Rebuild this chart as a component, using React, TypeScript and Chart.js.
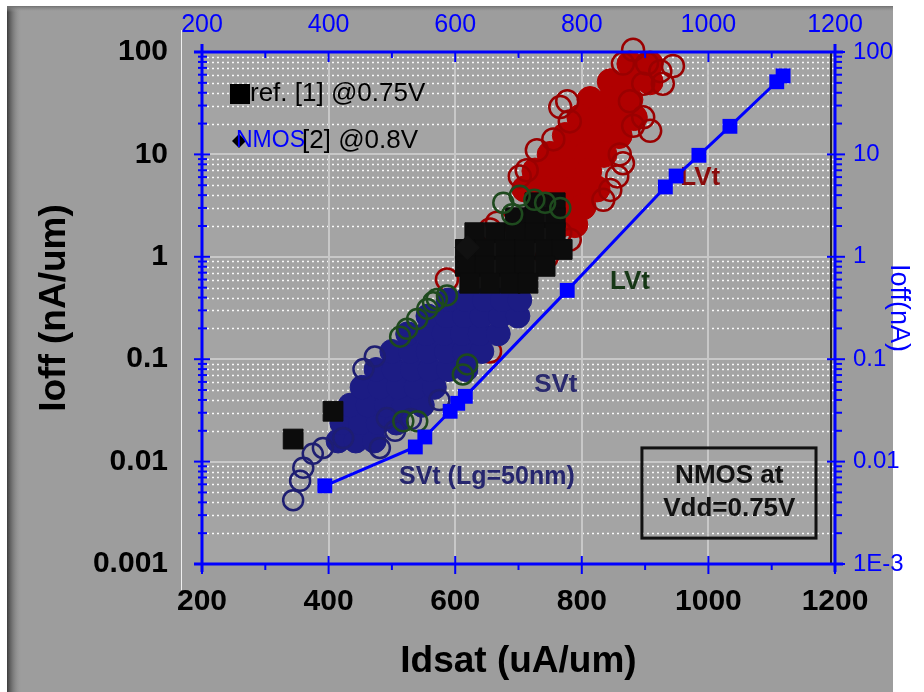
import React, { useEffect, useRef } from 'react';
import { Chart, registerables } from 'chart.js';
Chart.register(...registerables);

const FONT = '"Liberation Sans", Arial, Helvetica, sans-serif';

// ---- axes ----
const xTicks = [200, 400, 600, 800, 1000, 1200];
const xTickLabels = ['200', '400', '600', '800', '1000', '1200'];
const yTicks = [0.001, 0.01, 0.1, 1, 10, 100];
const yLeftLabels = ['0.001', '0.01', '0.1', '1', '10', '100'];
const yRightLabels = ['1E-3', '0.01', '0.1', '1', '10', '100'];

// ---- SVt (Lg=50nm) line, Ioff in nA (right axis) ----
const lineIdsat = [394, 537, 552, 592, 604, 616, 777, 932, 949, 985, 1034, 1108, 1118];
const lineIoff = [0.0058, 0.0139, 0.0174, 0.031, 0.0371, 0.0434, 0.47, 4.81, 6.15, 9.8, 18.8, 51.2, 58.5];

// ---- LVt cloud (red circles) ----
const lvtOpenIdsat = [881, 924, 944, 865, 903, 928, 897, 876, 897, 908, 881, 777, 766, 781, 755, 729, 860, 865, 856, 845, 834, 702, 713, 666, 655, 781, 766, 587, 655, 745];
const lvtOpenIoff = [105, 65, 73, 77, 77, 49, 49, 33, 23, 17, 19, 33, 29, 21, 14, 11, 10, 8.2, 6.1, 4.5, 3.6, 6.1, 7.0, 2.15, 1.85, 1.47, 1.72, 0.6, 0.119, 1.0];
const lvtCoreIdsat = [876, 908, 845, 876, 908, 813, 845, 876, 797, 826, 854, 883, 774, 802, 830, 859, 750, 778, 807, 835, 726, 755, 783, 811, 710, 739, 767, 796, 824, 774, 802, 789, 766];
const lvtCoreIoff = [76.5, 76.5, 51.2, 51.2, 51.2, 34.3, 34.3, 34.3, 22.9, 22.9, 22.9, 22.9, 15.3, 15.3, 15.3, 15.3, 10, 10, 10, 10, 6.87, 6.87, 6.87, 6.87, 4.6, 4.6, 4.6, 4.6, 4.6, 3.08, 3.08, 2.06, 2.06];

// ---- green circles ----
const greenIdsat = [513, 540, 556, 571, 587, 612, 619, 540, 518, 524, 565, 676, 702, 742, 766, 690, 725];
const greenIoff = [0.166, 0.247, 0.31, 0.387, 0.42, 0.071, 0.089, 0.0248, 0.0248, 0.198, 0.36, 3.37, 3.94, 3.37, 3.0, 2.6, 3.6];

// ---- SVt cloud (navy) ----
const svtCoreIdsat = [
  415, 443, 472,
  421, 450, 478, 507,
  434, 462, 491, 519, 548,
  453, 481, 510, 538, 567,
  475, 503, 532, 560, 589, 617,
  500, 529, 557, 586, 614, 642,
  525, 554, 582, 611, 639, 668,
  557, 586, 614, 642, 671, 699,
  589, 617, 646, 674, 702,
];
const svtCoreIoff = [
  0.0159, 0.0159, 0.0159,
  0.0238, 0.0238, 0.0238, 0.0238,
  0.0355, 0.0355, 0.0355, 0.0355, 0.0355,
  0.0531, 0.0531, 0.0531, 0.0531, 0.0531,
  0.0793, 0.0793, 0.0793, 0.0793, 0.0793, 0.0793,
  0.119, 0.119, 0.119, 0.119, 0.119, 0.119,
  0.177, 0.177, 0.177, 0.177, 0.177, 0.177,
  0.264, 0.264, 0.264, 0.264, 0.264, 0.264,
  0.378, 0.378, 0.378, 0.378, 0.378,
];
const svtOpenIdsat = [355, 344, 360, 375, 391, 423, 481, 473, 492, 455, 505, 530, 575];
const svtOpenIoff = [0.0065, 0.0042, 0.0087, 0.0119, 0.0136, 0.017, 0.0136, 0.106, 0.0266, 0.08, 0.02, 0.026, 0.04];

// ---- ref. [1] @0.75V (black squares) ----
const refIdsat = [344, 407, 726, 758, 695, 726, 758, 631, 663, 695, 726, 758, 616, 647, 679, 710, 742, 769, 616, 647, 679, 710, 742, 623, 655, 687, 715];
const refIoff = [0.0166, 0.031, 3.37, 3.37, 2.41, 2.41, 2.41, 1.72, 1.72, 1.72, 1.72, 1.72, 1.18, 1.18, 1.18, 1.18, 1.18, 1.18, 0.807, 0.807, 0.807, 0.807, 0.807, 0.552, 0.552, 0.552, 0.552];

// ---- NMOS [2] @0.8V (diamond) ----
const nmosIdsat = [619];
const nmosIoff = [1.23];

// ---- annotations (data coordinates) ----
const labelTexts = ['SVt (Lg=50nm)', 'SVt', 'LVt', 'LVt'];
const labelIdsat = [650, 759, 876, 987];
const labelIoff = [0.007, 0.0567, 0.565, 5.9];
const labelColors = ['#26266e', '#2a2a6e', '#163816', '#8a0c0c'];
const boxCorners = [[895, 0.0136], [1170, 0.00179]];
const boxLines = ['NMOS at', 'Vdd=0.75V'];
const boxLineIoff = [0.00728, 0.00349];
const boxCenterIdsat = 1033;

const pts = (xs: number[], ys: number[]) => xs.map((x, i) => ({ x, y: ys[i] }));

export default function App() {
  const ref = useRef<HTMLCanvasElement>(null);

  useEffect(() => {
    const canvas = ref.current!;

    const line = (ctx: CanvasRenderingContext2D, x1: number, y1: number, x2: number, y2: number) => {
      ctx.beginPath();
      ctx.moveTo(x1, y1);
      ctx.lineTo(x2, y2);
      ctx.stroke();
    };

    const bgPlugin = {
      id: 'bgPlugin',
      beforeDraw(chart: any) {
        const { ctx, chartArea: a } = chart;
        ctx.save();
        ctx.fillStyle = '#ffffff';
        ctx.fillRect(0, 0, 924, 692);
        ctx.fillStyle = '#9d9d9d';
        ctx.fillRect(7, 6, 886, 686);
        const g = ctx.createLinearGradient(7, 0, 22, 0);
        g.addColorStop(0, '#3c3c3c');
        g.addColorStop(1, 'rgba(157,157,157,0)');
        ctx.fillStyle = g;
        ctx.fillRect(7, 6, 15, 686);
        const gt = ctx.createLinearGradient(0, 6, 0, 12);
        gt.addColorStop(0, '#707070');
        gt.addColorStop(1, 'rgba(157,157,157,0)');
        ctx.fillStyle = gt;
        ctx.fillRect(7, 6, 886, 6);
        ctx.fillStyle = '#a4a4a4';
        ctx.fillRect(a.left, a.top, a.right - a.left, a.bottom - a.top);
        ctx.strokeStyle = '#f0f0f0';
        ctx.lineWidth = 1;
        line(ctx, 181.5, 30, 181.5, 590);
        ctx.restore();
      },
      beforeDatasetsDraw(chart: any) {
        const { ctx, chartArea: a, scales } = chart;
        const xs = scales.x, ys = scales.y;
        ctx.save();
        ctx.strokeStyle = 'rgba(255,255,255,0.95)';
        ctx.lineWidth = 1.5;
        ctx.setLineDash([2, 3]);
        for (let i = 0; i < yTicks.length - 1; i++) {
          for (let k = 2; k <= 9; k++) {
            const py = Math.round(ys.getPixelForValue(yTicks[i] * k)) + 0.5;
            line(ctx, a.left, py, a.right, py);
          }
        }
        ctx.setLineDash([]);
        ctx.strokeStyle = '#c8c8c8';
        ctx.lineWidth = 2;
        for (let i = 1; i < yTicks.length - 1; i++) {
          const py = Math.round(ys.getPixelForValue(yTicks[i]));
          line(ctx, a.left, py, a.right, py);
        }
        for (let i = 1; i < xTicks.length - 1; i++) {
          const px = Math.round(xs.getPixelForValue(xTicks[i]));
          line(ctx, px, a.top, px, a.bottom);
        }
        // legend
        ctx.fillStyle = '#000';
        ctx.fillRect(a.left + 28, a.top + 32, 20, 20);
        ctx.font = `26px ${FONT}`;
        ctx.textBaseline = 'middle';
        ctx.textAlign = 'left';
        ctx.fillText('ref. [1] @0.75V', a.left + 48, a.top + 42);
        ctx.beginPath();
        ctx.moveTo(a.left + 30, a.top + 89);
        ctx.lineTo(a.left + 37, a.top + 82);
        ctx.lineTo(a.left + 44, a.top + 89);
        ctx.lineTo(a.left + 37, a.top + 96);
        ctx.closePath();
        ctx.fill();
        ctx.fillText('[2] @0.8V', a.left + 100, a.top + 89);
        ctx.fillStyle = '#0000ff';
        ctx.font = `23px ${FONT}`;
        ctx.fillText('NMOS', a.left + 34, a.top + 89);
        // labels
        ctx.textAlign = 'center';
        for (let i = 0; i < labelTexts.length; i++) {
          ctx.fillStyle = labelColors[i];
          ctx.font = `bold ${i === 0 ? 25 : 26}px ${FONT}`;
          ctx.fillText(labelTexts[i], xs.getPixelForValue(labelIdsat[i]), ys.getPixelForValue(labelIoff[i]));
        }
        // box
        const bx1 = xs.getPixelForValue(boxCorners[0][0]);
        const by1 = ys.getPixelForValue(boxCorners[0][1]);
        const bx2 = xs.getPixelForValue(boxCorners[1][0]);
        const by2 = ys.getPixelForValue(boxCorners[1][1]);
        ctx.strokeStyle = '#111';
        ctx.lineWidth = 3;
        ctx.strokeRect(bx1, by1, bx2 - bx1, by2 - by1);
        ctx.fillStyle = '#111';
        ctx.font = `bold 26px ${FONT}`;
        for (let i = 0; i < boxLines.length; i++) {
          ctx.fillText(boxLines[i], xs.getPixelForValue(boxCenterIdsat), ys.getPixelForValue(boxLineIoff[i]));
        }
        ctx.restore();
      },
      afterDatasetsDraw(chart: any) {
        const { ctx, chartArea: a, scales } = chart;
        const xs = scales.x, ys = scales.y;
        ctx.save();
        ctx.strokeStyle = '#202020';
        ctx.lineWidth = 2;
        line(ctx, a.right - 4, a.top, a.right - 4, a.bottom);
        ctx.strokeStyle = '#0000ff';
        ctx.lineWidth = 3;
        line(ctx, a.left - 8, a.top, a.right + 8, a.top);
        line(ctx, a.left - 8, a.bottom, a.right + 8, a.bottom);
        line(ctx, a.left, a.top - 8, a.left, a.bottom + 8);
        line(ctx, a.right, a.top - 8, a.right, a.bottom + 8);
        ctx.lineWidth = 2;
        for (let i = 0; i < xTicks.length; i++) {
          const px = xs.getPixelForValue(xTicks[i]);
          line(ctx, px, a.bottom - 8, px, a.bottom + 10);
          line(ctx, px, a.top, px, a.top + 10);
          if (i < xTicks.length - 1) {
            const pm = xs.getPixelForValue((xTicks[i] + xTicks[i + 1]) / 2);
            line(ctx, pm, a.bottom, pm, a.bottom + 6);
            line(ctx, pm, a.top, pm, a.top + 6);
          }
        }
        for (let i = 0; i < yTicks.length; i++) {
          const py = ys.getPixelForValue(yTicks[i]);
          line(ctx, a.left - 8, py, a.left + 8, py);
          line(ctx, a.right - 8, py, a.right + 10, py);
          if (i < yTicks.length - 1) {
            for (let k = 2; k <= 9; k++) {
              const pm = ys.getPixelForValue(yTicks[i] * k);
              line(ctx, a.left - 4, pm, a.left + 5, pm);
              line(ctx, a.right, pm, a.right + 7, pm);
            }
          }
        }
        ctx.restore();
      },
    };

    const openCircle = (label: string, data: any[], color: string, order: number, r = 10) => ({
      label,
      data,
      xAxisID: 'x',
      yAxisID: 'y',
      pointStyle: 'circle',
      pointRadius: r,
      pointBorderWidth: 2.5,
      pointBorderColor: color,
      pointBackgroundColor: 'rgba(0,0,0,0)',
      showLine: false,
      clip: false,
      order,
    });
    const filled = (label: string, data: any[], color: string, order: number, style = 'circle', r = 11) => ({
      label,
      data,
      xAxisID: 'x',
      yAxisID: 'y',
      pointStyle: style,
      pointRadius: r,
      pointBorderWidth: 1,
      pointBorderColor: color,
      pointBackgroundColor: color,
      showLine: false,
      clip: false,
      order,
    });

    const chart = new Chart(canvas, {
      type: 'scatter',
      data: {
        datasets: [
          {
            label: 'SVt (Lg=50nm)',
            data: pts(lineIdsat, lineIoff),
            xAxisID: 'x',
            yAxisID: 'y2',
            showLine: true,
            borderColor: '#0000ff',
            borderWidth: 3,
            pointStyle: 'rect',
            pointRadius: 10.5,
            pointBackgroundColor: '#0000ff',
            pointBorderColor: '#0000ff',
            pointBorderWidth: 0,
            order: 0,
          } as any,
          filled('NMOS [2] @0.8V', pts(nmosIdsat, nmosIoff), '#111111', 1, 'rectRot', 12),
          openCircle('green', pts(greenIdsat, greenIoff), '#1e4a1e', 2),
          filled('ref. [1] @0.75V', pts(refIdsat, refIoff), '#0c0c0c', 3, 'rect', 14),
          openCircle('SVt open', pts(svtOpenIdsat, svtOpenIoff), '#1e1e72', 4),
          filled('SVt', pts(svtCoreIdsat, svtCoreIoff), '#1c1c84', 5, 'circle', 12),
          openCircle('LVt open', pts(lvtOpenIdsat, lvtOpenIoff), '#9a0000', 6, 11),
          filled('LVt', pts(lvtCoreIdsat, lvtCoreIoff), '#b00000', 7, 'circle', 13),
        ],
      },
      options: {
        responsive: false,
        animation: false,
        events: [],
        layout: { padding: 0 },
        plugins: { legend: { display: false }, tooltip: { enabled: false } },
        scales: {
          x: {
            type: 'linear',
            position: 'bottom',
            min: 200,
            max: 1200,
            afterBuildTicks: (s: any) => { s.ticks = xTicks.map((v) => ({ value: v })); },
            afterFit: (s: any) => { s.height = 128; },
            grid: { display: false, drawTicks: false },
            border: { display: false },
            ticks: {
              color: '#000',
              font: { family: FONT, size: 30, weight: 'bold' },
              padding: 20,
              maxRotation: 0,
              autoSkip: false,
              callback: (_v: any, i: number) => xTickLabels[i],
            },
            title: {
              display: true,
              text: 'Idsat (uA/um)',
              color: '#000',
              font: { family: FONT, size: 37, weight: 'bold' },
              padding: { top: 0, bottom: 8 },
            },
          },
          x2: {
            type: 'linear',
            position: 'top',
            min: 200,
            max: 1200,
            afterBuildTicks: (s: any) => { s.ticks = xTicks.map((v) => ({ value: v })); },
            afterFit: (s: any) => { s.height = 48; },
            grid: { display: false, drawTicks: false },
            border: { display: false },
            ticks: {
              color: '#0000ff',
              font: { family: FONT, size: 25 },
              padding: 12,
              maxRotation: 0,
              autoSkip: false,
              callback: (_v: any, i: number) => xTickLabels[i],
            },
          },
          y: {
            type: 'logarithmic',
            position: 'left',
            min: 0.001,
            max: 100,
            afterBuildTicks: (s: any) => { s.ticks = yTicks.map((v) => ({ value: v })); },
            afterFit: (s: any) => { s.width = 202; },
            grid: { display: false, drawTicks: false },
            border: { display: false },
            ticks: {
              color: '#000',
              font: { family: FONT, size: 30, weight: 'bold' },
              padding: 34,
              autoSkip: false,
              callback: (_v: any, i: number) => yLeftLabels[i],
            },
            title: {
              display: true,
              text: 'Ioff (nA/um)',
              color: '#000',
              font: { family: FONT, size: 37, weight: 'bold' },
              padding: { top: 33, bottom: 0 },
            },
          },
          y2: {
            type: 'logarithmic',
            position: 'right',
            min: 0.001,
            max: 100,
            afterBuildTicks: (s: any) => { s.ticks = yTicks.map((v) => ({ value: v })); },
            afterFit: (s: any) => { s.width = 89; },
            grid: { display: false, drawTicks: false },
            border: { display: false },
            ticks: {
              color: '#0000ff',
              font: { family: FONT, size: 24 },
              padding: 18,
              autoSkip: false,
              callback: (_v: any, i: number) => yRightLabels[i],
            },
            title: {
              display: true,
              text: 'Ioff(nA)',
              color: '#0000ff',
              font: { family: FONT, size: 27 },
              padding: { top: 9, bottom: 0 },
            },
          },
        },
      } as any,
      plugins: [bgPlugin as any],
    });

    return () => chart.destroy();
  }, []);

  return (
    <div style={{ position: 'absolute', left: 0, top: 0, width: 924, height: 692 }}>
      <canvas ref={ref} width={924} height={692} style={{ display: 'block', width: 924, height: 692 }} />
    </div>
  );
}
